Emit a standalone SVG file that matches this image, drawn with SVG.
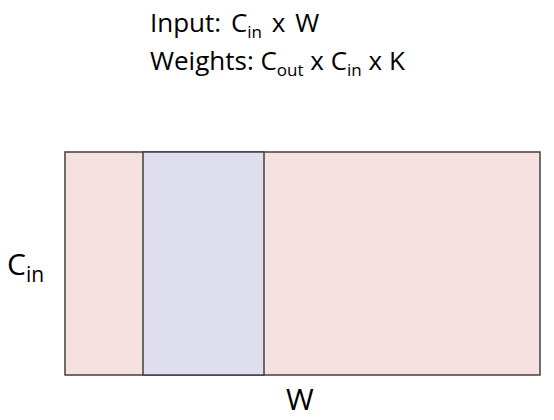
<svg xmlns="http://www.w3.org/2000/svg" width="554" height="420" viewBox="0 0 554 420">
<style>
text{font-family:"Open Sans","Liberation Sans",sans-serif;fill:#000}
.t{font-size:26px}
.sub{font-size:17px}
.box{stroke:#404040;stroke-width:1.5}
</style>
<rect width="554" height="420" fill="#fff"/>
<g id="title">
<text class="t" x="150" y="32" word-spacing="3">Input: C<tspan class="sub" dy="6">in</tspan><tspan dy="-6"> x W</tspan></text>
<text class="t" x="150" y="70">Weights: C<tspan class="sub" dy="6">out</tspan><tspan dy="-6"> x C</tspan><tspan class="sub" dy="6">in</tspan><tspan dy="-6"> x K</tspan></text>
</g>
<g id="input">
<rect class="box" x="65" y="152" width="475" height="223" fill="#f7e1e0"/>
</g>
<g id="kernel">
<rect class="box" x="143" y="152" width="121" height="223" fill="#dfdeec"/>
</g>
<g id="label-cin">
<text x="7" y="275" font-size="30">C<tspan font-size="21" dy="7">in</tspan></text>
</g>
<g id="label-w">
<text x="286" y="410" font-size="30">W</text>
</g>
<g id="connectors"/>
</svg>
